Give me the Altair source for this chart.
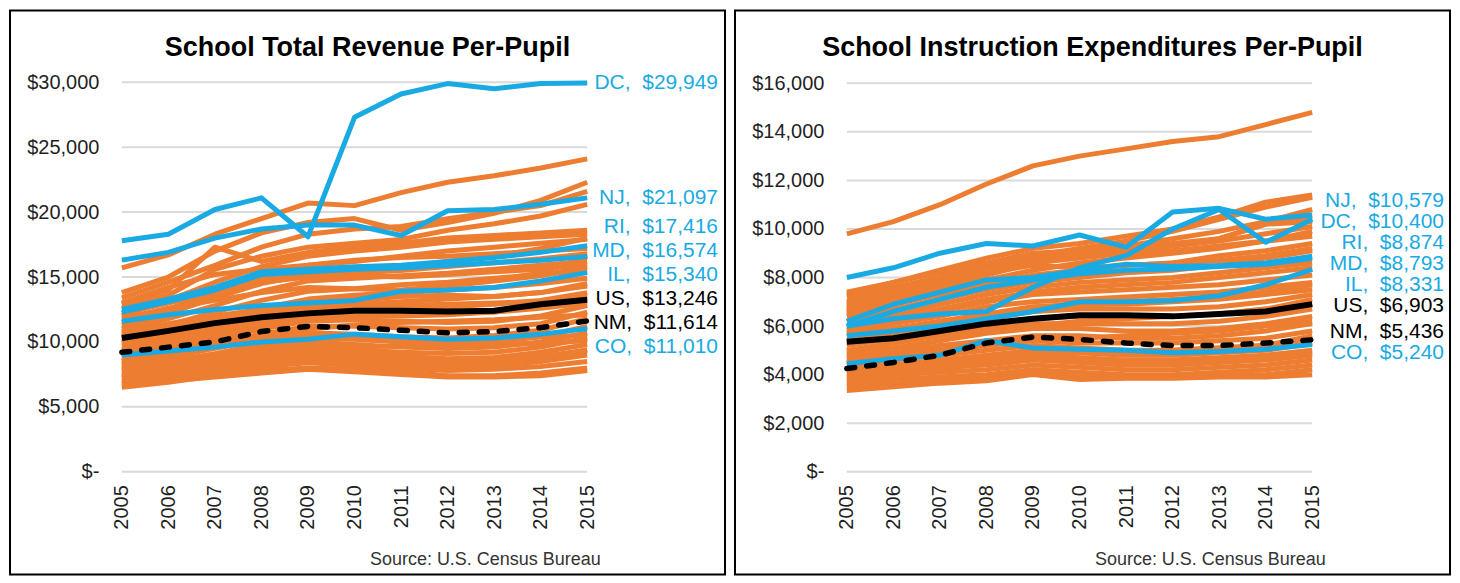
import altair as alt
import pandas as pd

years = [2005, 2006, 2007, 2008, 2009, 2010, 2011, 2012, 2013, 2014, 2015]

# ---------------- Left: School Total Revenue Per-Pupil ----------------
rev_ticks = [0, 5000, 10000, 15000, 20000, 25000, 30000]
rev_DC = [17800, 18300, 20200, 21100, 18100, 27300, 29100, 29900, 29500, 29900, 29949]
rev_NJ = [16300, 16900, 18000, 18700, 19000, 19000, 18200, 20100, 20200, 20600, 21097]
rev_RI = [12500, 13300, 14200, 15400, 15600, 15800, 15900, 16200, 16500, 16900, 17416]
rev_MD = [12300, 13100, 14000, 15200, 15400, 15600, 15700, 15900, 16100, 16300, 16574]
rev_IL = [11600, 12100, 12500, 12800, 13000, 13200, 13900, 14000, 14200, 14700, 15340]
rev_CO = [9000, 9300, 9600, 10000, 10200, 10600, 10400, 10200, 10300, 10600, 11010]
rev_US = [10300, 10850, 11450, 11900, 12200, 12400, 12400, 12350, 12400, 12900, 13246]
rev_NM = [9200, 9600, 10000, 10800, 11200, 11100, 10900, 10700, 10800, 11100, 11614]
rev_other_states = [
    [15700, 16700, 18300, 19500, 20700, 20500, 21500, 22300, 22800, 23400, 24100],
    [13800, 15000, 17000, 18400, 19200, 19500, 18600, 19200, 19900, 20900, 22300],
    [13400, 14600, 15900, 17300, 18300, 18700, 18900, 19500, 20000, 20500, 21600],
    [12600, 13600, 15600, 16600, 17300, 17600, 17900, 18600, 19100, 19700, 20600],
    [12900, 14000, 17300, 16200, 16900, 17300, 17600, 18000, 18200, 18400, 18600],
    [12000, 13200, 14600, 15800, 16600, 17000, 17300, 17700, 17900, 18100, 18300],
    [13000, 14200, 15200, 15600, 15900, 16200, 16600, 17000, 17300, 17600, 17900],
    [11500, 12500, 14000, 15000, 15900, 16300, 16500, 16600, 16800, 17000, 17200],
    [11000, 12200, 13400, 14500, 15200, 15300, 15500, 15800, 16100, 16400, 16800],
    [10800, 11800, 12800, 13900, 14700, 14900, 15100, 15300, 15600, 15900, 16200],
    [11800, 12600, 13200, 13800, 14200, 14100, 14000, 14300, 14700, 15100, 15800],
    [10400, 11300, 12300, 13200, 13900, 14100, 14400, 14600, 14900, 15200, 15500],
    [10000, 10800, 11700, 12600, 13300, 13600, 13800, 14000, 14200, 14500, 14900],
    [9700, 10400, 11200, 12000, 12600, 12900, 13100, 13300, 13500, 13800, 14300],
    [9400, 10100, 10900, 11600, 12300, 12500, 12600, 12700, 12900, 13200, 13800],
    [9000, 9700, 10500, 11300, 11900, 12000, 12000, 12100, 12300, 12700, 13400],
    [8800, 9500, 10200, 11000, 11600, 11700, 11600, 11500, 11600, 12000, 12800],
    [8500, 9100, 9900, 10600, 11200, 11200, 11100, 11000, 11100, 11400, 12300],
    [8200, 8800, 9500, 10200, 10700, 10600, 10400, 10300, 10500, 10900, 11800],
    [8000, 8500, 9100, 9800, 10300, 10200, 10000, 9900, 10000, 10400, 11200],
    [7800, 8300, 8900, 9500, 10000, 9800, 9600, 9500, 9600, 10000, 10700],
    [7600, 8000, 8600, 9200, 9700, 9400, 9200, 9100, 9200, 9600, 10300],
    [7400, 7800, 8400, 8900, 9400, 9100, 8900, 8700, 8800, 9200, 9800],
    [7200, 7600, 8100, 8600, 9000, 8800, 8600, 8400, 8500, 8800, 9400],
    [7000, 7400, 7900, 8400, 8700, 8500, 8300, 8100, 8200, 8500, 9000],
    [6800, 7200, 7700, 8100, 8400, 8200, 8000, 7800, 7900, 8100, 8500],
    [6500, 6900, 7400, 7800, 8000, 7900, 7700, 7400, 7400, 7600, 8000],
    [6700, 7000, 7300, 7600, 7900, 7700, 7500, 7300, 7300, 7400, 7800],
    [10200, 11000, 11800, 12300, 12600, 12700, 12800, 12900, 13000, 13100, 13600],
    [8600, 9300, 9800, 10300, 10500, 10400, 10200, 10100, 10200, 10400, 10500],
    [7300, 7900, 8500, 9100, 9500, 9600, 9700, 9700, 9800, 9900, 10100],
    [8300, 9000, 9700, 10400, 11000, 11300, 11500, 11600, 11700, 11900, 12100],
    [12200, 13000, 13800, 14600, 15000, 15100, 15000, 15200, 15400, 15600, 16000],
    [9200, 10000, 10800, 11800, 12500, 13200, 13500, 13600, 13500, 13800, 14500],
    [11300, 12300, 13600, 14800, 15400, 15600, 15800, 16200, 16600, 17200, 18000],
    [10600, 11400, 12000, 12500, 12800, 12600, 12400, 12200, 12300, 12600, 13000],
    [7900, 8300, 8700, 9000, 9200, 9000, 8700, 8500, 8600, 8900, 9300],
    [9900, 10600, 11500, 12400, 13000, 13400, 13900, 14300, 14800, 15300, 16600],
]

# ---------------- Right: School Instruction Expenditures Per-Pupil ----------------
ins_ticks = [0, 2000, 4000, 6000, 8000, 10000, 12000, 14000, 16000]
ins_NJ = [8000, 8400, 9000, 9400, 9300, 9750, 9250, 10700, 10850, 10400, 10579]
ins_DC = [6000, 6300, 6500, 6600, 7600, 8400, 8900, 10000, 10800, 9450, 10400]
ins_RI = [6200, 6900, 7400, 7900, 8000, 8300, 8550, 8450, 8500, 8600, 8874]
ins_MD = [6000, 6600, 7100, 7600, 7900, 8150, 8300, 8350, 8450, 8550, 8793]
ins_IL = [5600, 5800, 6000, 6300, 6600, 7000, 7000, 7050, 7250, 7700, 8331]
ins_CO = [4450, 4650, 4800, 5400, 5100, 5050, 5000, 4900, 4950, 5050, 5240]
ins_US = [5350, 5500, 5800, 6100, 6300, 6450, 6450, 6400, 6500, 6600, 6903]
ins_NM = [4250, 4500, 4800, 5300, 5550, 5450, 5300, 5200, 5200, 5300, 5436]
ins_other_states = [
    [9800, 10300, 11000, 11850, 12600, 13000, 13300, 13600, 13800, 14300, 14800],
    [7300, 7800, 8300, 8800, 9200, 9400, 9700, 10000, 10500, 11100, 11400],
    [7000, 7500, 8000, 8500, 8900, 9200, 9500, 9900, 10400, 10900, 11300],
    [6900, 7400, 7900, 8400, 8700, 9000, 9300, 9600, 9900, 10300, 10800],
    [6700, 7200, 7700, 8200, 8600, 8900, 9100, 9300, 9500, 9800, 10100],
    [6600, 7000, 7500, 7900, 8300, 8600, 8800, 9000, 9200, 9500, 9700],
    [6400, 6900, 7300, 7700, 8100, 8300, 8500, 8600, 8900, 9100, 9400],
    [6200, 6700, 7100, 7500, 7800, 8000, 8200, 8300, 8500, 8800, 9100],
    [6000, 6400, 6900, 7300, 7600, 7800, 7900, 8000, 8200, 8400, 8600],
    [5900, 6300, 6600, 7000, 7300, 7400, 7500, 7600, 7700, 7900, 8100],
    [5700, 6100, 6400, 6800, 7000, 7100, 7200, 7300, 7400, 7600, 7800],
    [5600, 5900, 6200, 6500, 6800, 6900, 6900, 7000, 7100, 7300, 7500],
    [5400, 5700, 6000, 6300, 6600, 6700, 6700, 6700, 6800, 7000, 7300],
    [5200, 5500, 5800, 6100, 6300, 6400, 6400, 6400, 6500, 6700, 7100],
    [5000, 5300, 5600, 5900, 6100, 6100, 6100, 6100, 6200, 6400, 6700],
    [4900, 5100, 5400, 5700, 5900, 5900, 5800, 5800, 5900, 6100, 6400],
    [4700, 4900, 5200, 5400, 5600, 5600, 5500, 5500, 5600, 5800, 6100],
    [4600, 4800, 5000, 5200, 5400, 5300, 5300, 5300, 5400, 5500, 5800],
    [4400, 4600, 4800, 5000, 5200, 5100, 5000, 5000, 5100, 5200, 5600],
    [4200, 4400, 4600, 4800, 5000, 4900, 4800, 4800, 4900, 5000, 5300],
    [4100, 4300, 4500, 4600, 4800, 4700, 4600, 4600, 4700, 4800, 5000],
    [3900, 4100, 4300, 4400, 4600, 4500, 4400, 4400, 4500, 4600, 4800],
    [3800, 4000, 4100, 4200, 4400, 4300, 4200, 4200, 4300, 4400, 4600],
    [3600, 3800, 3900, 4000, 4200, 4100, 4000, 4000, 4100, 4200, 4400],
    [3500, 3600, 3800, 3900, 4100, 3900, 3900, 3900, 4000, 4000, 4200],
    [3350, 3500, 3650, 3750, 4000, 3800, 3850, 3850, 3900, 3900, 4000],
    [7200, 7600, 8000, 8500, 8900, 9000, 9000, 9100, 9300, 9500, 9900],
    [6500, 7000, 7600, 8100, 8600, 8800, 9000, 9300, 9600, 10200, 10500],
    [5800, 6200, 6700, 7100, 7400, 7600, 7700, 7800, 8000, 8200, 8400],
    [5300, 5700, 6000, 6400, 6600, 6800, 7000, 7100, 7200, 7400, 7700],
    [4800, 5100, 5400, 5800, 6000, 6200, 6300, 6400, 6500, 6700, 6900],
    [4500, 4700, 5000, 5300, 5500, 5500, 5600, 5700, 5800, 6000, 6200],
    [4000, 4200, 4400, 4700, 4900, 4900, 4900, 5000, 5100, 5200, 5500],
    [6800, 7300, 7800, 8200, 8500, 8400, 8500, 8600, 8700, 8900, 9200],
    [7400, 7800, 8200, 8600, 9000, 9100, 9300, 9400, 9600, 10200, 10300],
    [3700, 3900, 4200, 4500, 4700, 4600, 4500, 4500, 4600, 4700, 4900],
]

ORANGE = "#ED7D31"
BLUE = "#19AAE4"
BLACK = "#000000"
FONT = "Liberation Sans"
TEXT = "#1f1f1f"

W, H = 716, 565          # panel size (the bordered box)
X_LEFT, X_RIGHT = 112, 578
Y_ZERO = 462


def long_df(named):
    rows = []
    for name, vals in named:
        for yr, v in zip(years, vals):
            rows.append({"state": name, "year": yr, "value": v})
    return pd.DataFrame(rows)


def spread_labels(ends, px_per_unit, gap):
    idx = sorted(range(len(ends)), key=lambda i: -ends[i])
    pos = [-ends[i] * px_per_unit for i in idx]
    clusters = []
    for p in pos:
        clusters.append([[p], p])
        while len(clusters) > 1:
            a, b = clusters[-2], clusters[-1]
            a_end = a[1] + (len(a[0]) - 1) * gap
            if a_end + gap > b[1]:
                items = a[0] + b[0]
                mean = sum(items) / len(items)
                clusters[-2:] = [[items, mean - (len(items) - 1) * gap / 2]]
            else:
                break
    out = [0.0] * len(ends)
    k = 0
    for items, start in clusters:
        for j in range(len(items)):
            out[idx[k]] = -(start + j * gap) / px_per_unit
            k += 1
    return out


def panel(title, ticks, top_px, others, highlights, us, nm, gap, dx):
    xs = alt.Scale(domain=[years[0], years[-1]], range=[X_LEFT, X_RIGHT])
    ys = alt.Scale(domain=[ticks[0], ticks[-1]], range=[Y_ZERO, top_px])
    xaxis = alt.Axis(values=years, format="d", labelAngle=270, orient="bottom",
                     offset=-(H - Y_ZERO), domain=False, ticks=False, grid=False,
                     labelPadding=13, labelFontSize=20, labelFont=FONT, labelColor=TEXT,
                     labelFlush=False, labelOverlap=False,
                     title="Source: U.S. Census Bureau", titleX=591, titleY=88,
                     titleAlign="right", titleBaseline="middle", titleFontSize=18,
                     titleFont=FONT, titleFontWeight="normal", titleColor="#333333")
    yaxis = alt.Axis(values=ticks, orient="left", offset=-98, labelPadding=9,
                     domain=False, ticks=False, grid=False, labelFontSize=20,
                     labelFont=FONT, labelColor=TEXT, labelFlush=False, labelOverlap=False,
                     labelExpr="datum.value == 0 ? '$-\u00a0\u00a0' : '$' + format(datum.value, ',')",
                     title=None)

    def X(field):
        return alt.X(field, type="quantitative", scale=xs, axis=xaxis)

    def Y(field):
        return alt.Y(field, type="quantitative", scale=ys, axis=yaxis)

    grid_df = pd.DataFrame({"tick": ticks, "x0": years[0], "x1": years[-1]})
    grid = alt.Chart(grid_df).mark_rule(color="#d9d9d9", strokeWidth=2).encode(
        x=X("x0"), x2="x1", y=Y("tick"))

    other_df = long_df([(f"other{i}", v) for i, v in enumerate(others)])
    orange = alt.Chart(other_df).mark_line(color=ORANGE, strokeWidth=5, strokeJoin="round").encode(
        x=X("year"), y=Y("value"), detail="state:N")

    blue_df = long_df(highlights)
    blue = alt.Chart(blue_df).mark_line(color=BLUE, strokeWidth=5, strokeJoin="round").encode(
        x=X("year"), y=Y("value"), detail="state:N")

    us_line = alt.Chart(long_df([("US", us)])).mark_line(
        color=BLACK, strokeWidth=6, strokeJoin="round").encode(x=X("year"), y=Y("value"))
    nm_line = alt.Chart(long_df([("NM", nm)])).mark_line(
        color=BLACK, strokeWidth=5.5, strokeDash=[8, 12], strokeCap="round",
        strokeJoin="round").encode(x=X("year"), y=Y("value"))

    named = highlights + [("US", us), ("NM", nm)]
    ends = [v[-1] for _, v in named]
    px_per_unit = (Y_ZERO - top_px) / (ticks[-1] - ticks[0])
    label_vals = spread_labels(ends, px_per_unit, gap)
    lab_df = pd.DataFrame({
        "year": [years[-1]] * len(named),
        "ly": label_vals,
        "text": [f"{n},\u00a0 ${v[-1]:,}" for n, v in named],
        "col": [BLACK if n in ("US", "NM") else BLUE for n, _ in named],
    })
    labels = alt.Chart(lab_df).mark_text(align="right", baseline="middle", dx=dx,
                                         fontSize=21, font=FONT).encode(
        x=X("year"), y=Y("ly"), text="text:N", color=alt.Color("col:N", scale=None))

    return alt.layer(grid, orange, blue, us_line, nm_line, labels).properties(
        width=W, height=H,
        title=alt.TitleParams(title, fontSize=27, fontWeight="bold", font=FONT,
                              color="black", anchor="middle", offset=-73,
                              baseline="alphabetic"))


left = panel("School Total Revenue Per-Pupil", rev_ticks, 72, rev_other_states,
             [("DC", rev_DC), ("NJ", rev_NJ), ("RI", rev_RI), ("MD", rev_MD),
              ("IL", rev_IL), ("CO", rev_CO)], rev_US, rev_NM, gap=24, dx=131)
right = panel("School Instruction Expenditures Per-Pupil", ins_ticks, 73, ins_other_states,
              [("NJ", ins_NJ), ("DC", ins_DC), ("RI", ins_RI), ("MD", ins_MD),
               ("IL", ins_IL), ("CO", ins_CO)], ins_US, ins_NM, gap=21, dx=132)

chart = alt.hconcat(left, right, spacing=8).properties(
    padding={"left": 1, "top": 1, "right": 1, "bottom": 1}, background="white"
).configure_view(stroke="black", strokeWidth=2, fill="white")

chart.save("out.html", embed_options={"renderer": "svg", "actions": False})
